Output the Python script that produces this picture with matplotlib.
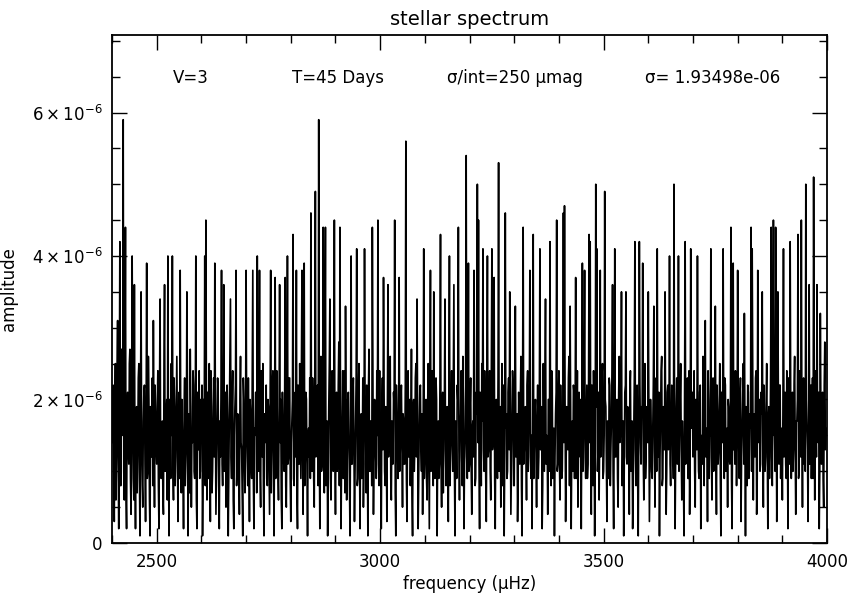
import numpy as np
import matplotlib.pyplot as plt
from matplotlib.ticker import MultipleLocator, FuncFormatter

# Spectrum sampled every 1.25 uHz from 2400 uHz.
# amp_rows holds the samples on the 2.5 uHz grid (2400, 2402.5, ...),
# amp_rows_mid the samples in between (2401.25, 2403.75, ...).
# One row = 50 uHz (20 samples), amplitude in units of 1e-7.
f_start = 2400.0
f_step = 1.25

amp_rows = [
    [14, 22, 3, 25, 12, 31, 2, 42, 8, 24, 59, 6, 44, 2, 21, 11, 27, 4, 40, 9],     # 2400
    [36, 2, 19, 13, 25, 1, 35, 8, 17, 22, 3, 39, 10, 20, 1, 15, 23, 31, 5, 18],    # 2450
    [11, 24, 2, 34, 9, 17, 4, 36, 14, 20, 40, 1, 16, 25, 40, 6, 19, 12, 26, 3],    # 2500
    [21, 38, 7, 15, 2, 23, 11, 35, 1, 18, 27, 5, 14, 22, 9, 40, 2, 17, 24, 10],    # 2550
    [16, 1, 20, 40, 45, 6, 13, 25, 3, 19, 10, 23, 39, 4, 15, 21, 2, 12, 38, 8],    # 2600
    [36, 14, 5, 22, 1, 17, 34, 9, 24, 2, 19, 38, 11, 16, 4, 26, 13, 1, 20, 7],     # 2650
    [38, 12, 23, 3, 18, 9, 38, 2, 15, 21, 40, 10, 38, 5, 17, 25, 1, 14, 22, 8],    # 2700
    [19, 4, 38, 13, 24, 1, 37, 11, 16, 6, 36, 20, 2, 15, 10, 37, 5, 40, 12, 23],   # 2750
    [3, 17, 43, 8, 21, 38, 2, 14, 25, 9, 38, 4, 39, 12, 20, 1, 16, 23, 46, 10],    # 2800
    [18, 5, 49, 13, 22, 59, 2, 26, 11, 44, 7, 44, 15, 1, 19, 34, 6, 24, 10, 45],   # 2850
    [4, 21, 12, 28, 44, 2, 17, 9, 24, 33, 6, 20, 14, 1, 40, 11, 23, 3, 16, 41],    # 2900
    [9, 25, 2, 18, 13, 5, 41, 15, 22, 1, 27, 10, 17, 44, 4, 20, 12, 24, 45, 8],    # 2950
    [14, 2, 23, 37, 10, 19, 3, 36, 16, 26, 6, 12, 21, 45, 1, 18, 9, 37, 13, 22],   # 3000
    [5, 17, 11, 56, 3, 24, 15, 8, 27, 1, 20, 13, 25, 34, 2, 16, 22, 10, 4, 41],    # 3050
    [12, 20, 6, 25, 2, 38, 14, 18, 35, 9, 23, 1, 17, 11, 43, 5, 21, 15, 34, 8],    # 3100
    [19, 3, 40, 13, 24, 10, 36, 1, 16, 22, 44, 6, 18, 12, 26, 2, 14, 54, 9, 39],   # 3150
    [11, 23, 4, 17, 38, 8, 21, 50, 45, 2, 15, 25, 41, 10, 19, 3, 40, 13, 24, 6],   # 3200
    [41, 14, 37, 2, 20, 9, 53, 16, 5, 25, 12, 1, 46, 18, 10, 23, 35, 4, 17, 22],   # 3250
    [8, 33, 15, 3, 21, 11, 26, 1, 44, 13, 19, 6, 24, 16, 38, 9, 2, 43, 14, 20],    # 3300
    [5, 22, 12, 41, 17, 2, 25, 10, 34, 15, 4, 20, 42, 8, 23, 13, 1, 18, 45, 11],   # 3350
    [24, 6, 16, 10, 46, 47, 3, 19, 13, 26, 33, 2, 17, 22, 9, 37, 14, 5, 21, 12],   # 3400
    [2, 39, 15, 38, 9, 22, 11, 43, 42, 4, 18, 24, 1, 50, 41, 13, 6, 38, 16, 25],   # 3450
    [10, 49, 19, 3, 14, 23, 8, 17, 36, 2, 41, 12, 20, 5, 26, 15, 35, 9, 1, 21],    # 3500
    [35, 11, 18, 4, 24, 13, 2, 16, 42, 8, 22, 1, 42, 14, 19, 39, 6, 25, 12, 17],   # 3550
    [35, 3, 20, 10, 15, 33, 5, 23, 41, 12, 1, 18, 26, 9, 16, 35, 4, 21, 13, 40],   # 3600
    [8, 22, 14, 50, 2, 19, 11, 40, 16, 25, 6, 13, 1, 42, 17, 23, 9, 4, 41, 18],    # 3650
    [12, 24, 5, 17, 40, 10, 21, 2, 15, 26, 8, 31, 13, 3, 20, 16, 41, 6, 23, 11],   # 3700
    [33, 4, 18, 13, 25, 1, 16, 41, 9, 22, 14, 5, 19, 11, 44, 2, 39, 17, 24, 8],    # 3750
    [38, 13, 20, 3, 16, 25, 32, 1, 12, 22, 9, 18, 44, 41, 6, 15, 23, 4, 38, 14],   # 3800
    [10, 21, 35, 5, 17, 12, 25, 2, 19, 14, 44, 8, 45, 16, 44, 3, 35, 11, 22, 15],  # 3850
    [6, 41, 18, 11, 24, 2, 15, 42, 9, 21, 13, 26, 4, 17, 43, 10, 20, 45, 5, 23],   # 3900
    [12, 50, 16, 3, 36, 19, 9, 23, 51, 6, 17, 36, 14, 2, 32, 11, 21, 5, 28, 15],   # 3950
]

amp_rows_mid = [
    [20, 9, 17, 6, 24, 12, 19, 8, 27, 15, 10, 22, 7, 18, 13, 25, 9, 16, 21, 6],    # 2401.25
    [12, 18, 7, 23, 10, 20, 14, 5, 21, 11, 17, 9, 26, 6, 19, 12, 8, 16, 22, 13],
    [19, 8, 21, 12, 16, 7, 24, 10, 18, 6, 13, 20, 9, 15, 11, 23, 8, 19, 14, 17],
    [9, 16, 20, 11, 18, 8, 14, 22, 12, 7, 19, 15, 24, 10, 17, 6, 21, 13, 9, 20],
    [22, 11, 15, 8, 18, 21, 9, 14, 24, 7, 16, 12, 19, 10, 23, 8, 17, 20, 11, 15],
    [10, 21, 13, 17, 9, 24, 12, 19, 6, 15, 22, 8, 18, 11, 20, 14, 7, 23, 12, 16],
    [17, 8, 14, 20, 11, 23, 9, 16, 21, 7, 13, 19, 10, 24, 12, 8, 18, 15, 9, 20],
    [11, 19, 7, 22, 13, 17, 9, 24, 10, 18, 14, 6, 21, 12, 20, 8, 16, 11, 23, 9],
    [14, 20, 9, 16, 12, 7, 22, 11, 17, 24, 13, 19, 8, 21, 10, 15, 12, 9, 18, 23],
    [9, 24, 12, 18, 8, 15, 21, 10, 19, 13, 22, 8, 17, 11, 25, 9, 14, 20, 16, 12],
    [16, 10, 22, 8, 19, 13, 24, 15, 7, 18, 12, 21, 9, 17, 11, 20, 14, 10, 23, 8],
    [20, 12, 16, 9, 23, 11, 18, 7, 14, 21, 10, 17, 8, 22, 13, 19, 9, 15, 11, 24],
    [10, 18, 13, 21, 8, 15, 20, 12, 23, 9, 17, 11, 19, 7, 22, 14, 16, 10, 20, 13],
    [18, 11, 22, 9, 16, 12, 20, 14, 7, 19, 10, 23, 12, 17, 9, 21, 13, 18, 15, 9],
    [17, 9, 19, 13, 21, 10, 24, 8, 16, 12, 20, 14, 9, 22, 11, 18, 7, 20, 13, 16],
    [12, 21, 8, 18, 14, 23, 10, 17, 9, 20, 13, 16, 24, 8, 19, 11, 22, 12, 17, 10],
    [19, 10, 16, 12, 22, 9, 18, 14, 11, 21, 8, 17, 13, 24, 9, 20, 12, 16, 10, 22],
    [13, 20, 9, 17, 11, 23, 10, 19, 14, 8, 22, 12, 16, 9, 21, 13, 18, 11, 24, 8],
    [21, 12, 18, 9, 16, 20, 8, 23, 11, 17, 14, 22, 10, 19, 12, 15, 21, 9, 18, 13],
    [16, 9, 21, 13, 19, 8, 17, 22, 11, 14, 20, 10, 18, 24, 9, 16, 12, 21, 10, 19],
    [11, 22, 9, 18, 14, 20, 12, 16, 23, 8, 19, 13, 10, 21, 17, 9, 24, 12, 15, 20],
    [18, 10, 23, 12, 16, 9, 20, 14, 11, 22, 8, 17, 13, 19, 10, 21, 15, 12, 23, 9],
    [15, 20, 11, 17, 9, 22, 13, 24, 10, 18, 12, 16, 9, 21, 14, 19, 8, 17, 11, 22],
    [12, 19, 15, 21, 10, 17, 8, 23, 13, 20, 9, 16, 22, 11, 18, 12, 24, 9, 19, 14],
    [20, 11, 16, 9, 22, 13, 18, 10, 15, 21, 12, 24, 8, 19, 13, 17, 10, 22, 14, 11],
    [14, 21, 9, 18, 12, 23, 16, 10, 20, 13, 17, 8, 22, 11, 19, 9, 24, 13, 16, 21],
    [19, 10, 20, 13, 17, 9, 22, 14, 11, 18, 21, 12, 16, 24, 9, 15, 12, 20, 10, 17],
    [13, 22, 11, 19, 9, 21, 14, 17, 23, 10, 16, 20, 12, 18, 9, 22, 13, 11, 19, 15],
    [17, 9, 23, 12, 20, 11, 15, 19, 8, 21, 13, 16, 10, 22, 18, 12, 24, 9, 17, 20],
    [11, 18, 14, 22, 10, 20, 13, 17, 9, 24, 12, 19, 15, 10, 21, 13, 18, 22, 9, 16],
    [18, 12, 21, 9, 16, 23, 11, 19, 14, 10, 22, 13, 17, 20, 9, 24, 12, 16, 19, 11],
    [10, 20, 13, 18, 11, 22, 15, 9, 19, 24, 12, 17, 21, 10, 18, 14, 9, 22, 13, 16],
]

x_major = [2500, 3000, 3500, 4000]
y_major = [0, 2e-6, 4e-6, 6e-6]

annotations = ['V=3', 'T=45 Days', 'σ/int=250 μmag', 'σ= 1.93498e-06']
annot_x = [0.085, 0.252, 0.468, 0.745]

on_grid = np.concatenate([np.array(r, dtype=float) for r in amp_rows])
between = np.concatenate([np.array(r, dtype=float) for r in amp_rows_mid])
amp = np.empty(on_grid.size + between.size)
amp[0::2] = on_grid
amp[1::2] = between
amp *= 1e-7
freq = f_start + f_step * np.arange(amp.size)

plt.rcParams['font.family'] = 'DejaVu Sans'
plt.rcParams['font.size'] = 12

fig = plt.figure(figsize=(8.52, 5.94), dpi=100)
ax = fig.add_axes([0.1315, 0.0859, 0.8392, 0.8551])

ax.plot(freq, amp, color='black', linewidth=1.2)

ax.set_xlim(2400, 4000)
ax.set_ylim(0, 7.08e-6)
ax.set_xticks(x_major)
ax.xaxis.set_minor_locator(MultipleLocator(100))
ax.set_yticks(y_major)
ax.yaxis.set_minor_locator(MultipleLocator(0.5e-6))


def ylab(v, pos):
    if abs(v) < 1e-12:
        return '0'
    return r'$%d\times10^{-6}$' % round(v * 1e6)


ax.yaxis.set_major_formatter(FuncFormatter(ylab))
ax.tick_params(which='both', direction='in', top=True, right=True, width=1, labelsize=12)
ax.tick_params(which='major', length=11, pad=7)
ax.tick_params(which='minor', length=6)
for s in ax.spines.values():
    s.set_linewidth(1.3)

for txt, xp in zip(annotations, annot_x):
    ax.text(xp, 0.915, txt, transform=ax.transAxes, fontsize=12, ha='left', va='center')

ax.set_title('stellar spectrum', fontsize=14, pad=7)
ax.set_xlabel('frequency (μHz)', fontsize=12, labelpad=3)
ax.set_ylabel('amplitude', fontsize=12, labelpad=10)

fig.savefig('out.png', dpi=100)
